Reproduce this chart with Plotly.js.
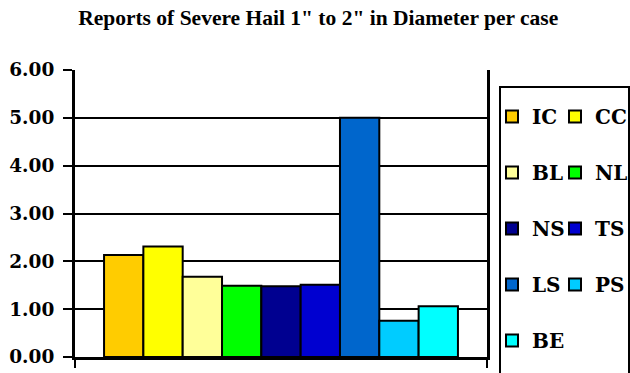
<!DOCTYPE html>
<html>
<head>
<meta charset="utf-8">
<script src="https://cdn.plot.ly/plotly-3.0.1.min.js"></script>
<style>html,body{margin:0;padding:0;background:#fff;}#chart{width:630px;height:373px;}</style>
</head>
<body>
<div id="chart"></div>
<script>
// ---- data ----
const category = ['per case'];
const seriesNames = ['IC', 'CC', 'BL', 'NL', 'NS', 'TS', 'LS', 'PS', 'BE'];
const seriesValues = [2.13, 2.31, 1.68, 1.49, 1.48, 1.51, 5.00, 0.76, 1.06];
const yTickValues = [0, 1, 2, 3, 4, 5, 6];
const yTickLabels = ['0.00', '1.00', '2.00', '3.00', '4.00', '5.00', '6.00'];
const titleText = 'Reports of Severe Hail 1" to 2" in Diameter per case';

// ---- styles ----
const seriesColors = ['#FFCC00', '#FFFF00', '#FFFF99', '#00FF00', '#000090', '#0000D0', '#0066CC', '#00CCFF', '#00FFFF'];
const serifBold = {family: 'DejaVu Serif', weight: 'bold', color: '#000'};

const traces = seriesNames.map((name, i) => ({
  type: 'bar',
  name: name,
  x: category,
  y: [seriesValues[i]],
  legend: (i % 2 === 0) ? 'legend' : 'legend2',
  legendgroup: name,
  marker: {color: seriesColors[i], line: {color: '#000', width: 2}},
  hovertemplate: name + ': %{y:.2f}<extra></extra>'
}));

const legendCommon = {
  orientation: 'v',
  traceorder: 'grouped',
  tracegroupgap: 27,
  xanchor: 'left', xref: 'paper',
  y: 0.906, yanchor: 'top', yref: 'paper',
  borderwidth: 0, bgcolor: 'rgba(0,0,0,0)',
  font: Object.assign({size: 20}, serifBold)
};

const layout = {
  width: 630,
  height: 373,
  paper_bgcolor: '#fff',
  plot_bgcolor: '#fff',
  margin: {l: 75, r: 143, t: 70, b: 16, autoexpand: false},
  title: {
    text: titleText,
    font: {family: 'Liberation Serif, Times New Roman, serif', size: 21.5, weight: 'bold', color: '#000'},
    x: 0.505, xref: 'container', xanchor: 'center',
    y: 0.953, yref: 'container', yanchor: 'middle'
  },
  barmode: 'group',
  bargap: 0.141,
  bargroupgap: 0,
  showlegend: true,
  legend: Object.assign({}, legendCommon, {x: (492 - 75) / 412}),
  legend2: Object.assign({}, legendCommon, {x: (555 - 75) / 412}),
  shapes: [{
    type: 'rect', xref: 'paper', yref: 'paper',
    x0: (500 - 75) / 412, x1: (629 - 75) / 412,
    y0: -0.1, y1: 1 - (87 - 70) / 287,
    line: {color: '#000', width: 2}, fillcolor: 'rgba(0,0,0,0)', layer: 'above'
  }],
  xaxis: {
    type: 'category',
    showticklabels: false,
    showgrid: false,
    zeroline: false,
    showline: true, linecolor: '#000', linewidth: 3,
    ticks: 'outside', tickson: 'boundaries', ticklen: 8, tickwidth: 2, tickcolor: '#000'
  },
  yaxis: {
    range: [0, 6],
    tickvals: yTickValues,
    ticktext: yTickLabels,
    showgrid: true, gridcolor: '#000', gridwidth: 2,
    zeroline: false,
    showline: true, linecolor: '#000', linewidth: 3, mirror: true,
    ticks: 'outside', ticklen: 9, tickwidth: 2, tickcolor: '#000',
    ticklabelstandoff: 5,
    tickfont: Object.assign({size: 18.5}, serifBold)
  }
};

Plotly.newPlot('chart', traces, layout, {displayModeBar: false, staticPlot: true});
</script>
</body>
</html>
